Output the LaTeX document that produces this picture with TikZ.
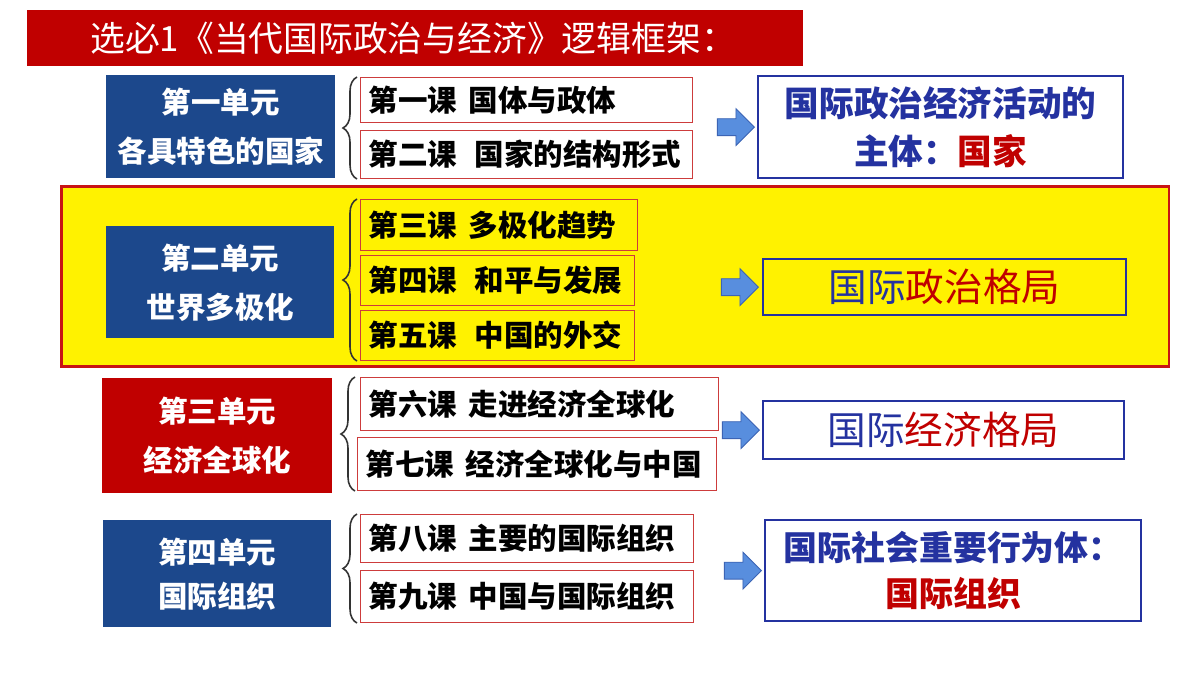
\documentclass[tikz,border=0pt]{standalone}
\usepackage{fontspec}
\setmainfont{Noto Sans CJK SC}
\usepackage{tikz}
\usetikzlibrary{decorations.pathreplacing,shapes.arrows}
\definecolor{unitblue}{RGB}{28,72,140}
\definecolor{unitred}{RGB}{192,0,0}
\definecolor{resblue}{RGB}{36,50,160}
\definecolor{resred}{RGB}{192,0,0}
\definecolor{arrfill}{RGB}{88,142,222}
\definecolor{arredge}{RGB}{60,100,180}
\definecolor{lessonline}{RGB}{205,60,60}
\definecolor{bandline}{RGB}{200,20,20}
\newcommand{\gap}{\hspace{0.4em}}
\newcommand{\widegap}{\hspace{0.6em}}
\newcommand{\unitfont}{\bfseries\fontsize{16.8}{28}\selectfont}
\newcommand{\lessonfont}{\bfseries\fontsize{16.8}{20}\selectfont}

\begin{document}
\begin{tikzpicture}[x=0.02cm, y=-0.02cm]
                %\draw[help lines] (0,0) grid[step=50] (1200,675);
                \tikzset{
                    unitbox/.style = {text = white, font = \unitfont, align = center, anchor = north west, inner sep = 0pt},
                    lessonbox/.style = {draw = lessonline, line width = 0.6pt, fill = white, anchor = north west,
                                        font = \lessonfont, align = left, inner xsep = 0.16cm, inner ysep = 0pt},
                    resbox/.style = {draw = resblue, line width = 1.3pt, fill = white, anchor = north west,
                                     align = center, text = resblue, inner sep = 0pt},
                    blockarrow/.style = {single arrow, draw = arredge, fill = arrfill, line width = 0.5pt, anchor = east,
                                         minimum height = 0.74cm, inner xsep = 0pt, inner ysep = 0.16cm,
                                         single arrow head extend = 0.2cm},
                    lessonbrace/.style = {decorate, decoration = {brace, amplitude = 0.28cm}, line width = 0.9pt, draw = black!80}
                }
                \useasboundingbox[fill = white] (0,0) rectangle (1200,675);
                % title bar
                \node[fill = unitred, anchor = north west, minimum width = 15.52cm, minimum height = 1.12cm, inner sep = 0pt] (titlebar) at (27,10) {};
                \node[anchor = west, text = white, font = \fontsize{19.8}{22}\selectfont, inner sep = 0pt] (titletxt) at (90,38) {选必1《当代国际政治与经济》逻辑框架：};
                % yellow band of the second unit
                \node[fill = yellow, draw = bandline, line width = 1.5pt, anchor = north west, minimum width = 22.16cm, minimum height = 3.6cm] (band) at (60,185) {};
                % first unit
                \node[unitbox, fill = unitblue, minimum width = 4.58cm, minimum height = 2.06cm] (unit1) at (106,75) {第一单元\\各具特色的国家};
                \node[lessonbox, minimum width = 6.64cm, text width = 6.32cm, minimum height = 0.9cm] (les1) at (360,77) {第一课\gap 国体与政体};
                \node[lessonbox, minimum width = 6.64cm, text width = 6.32cm, minimum height = 0.96cm] (les2) at (360,130) {第二课\widegap 国家的结构形式};
                \node[resbox, minimum width = 7.3cm, minimum height = 2.04cm, font = \bfseries\fontsize{19.7}{27}\selectfont] (res1) at (757,75) {国际政治经济活动的\\主体：{\color{resred}国家}};
                \node[blockarrow] (arr1) at ([xshift = -0.04cm]res1.west) {};
                \draw[lessonbrace] ([xshift = -0.06cm]les2.south west) -- ([xshift = -0.06cm]les1.north west);
                % second unit
                \node[unitbox, fill = unitblue, minimum width = 4.56cm, minimum height = 2.24cm] (unit2) at (106,226) {第二单元\\世界多极化};
                \node[lessonbox, fill = yellow, minimum width = 5.54cm, text width = 5.22cm, minimum height = 1.02cm] (les3) at (360,199) {第三课\gap 多极化趋势};
                \node[lessonbox, fill = yellow, minimum width = 5.48cm, text width = 5.16cm, minimum height = 1.0cm] (les4) at (360,255) {第四课\widegap 和平与发展};
                \node[lessonbox, fill = yellow, minimum width = 5.48cm, text width = 5.16cm, minimum height = 1.0cm] (les5) at (360,310) {第五课\widegap 中国的外交};
                \node[resbox, fill = yellow, minimum width = 7.26cm, minimum height = 1.12cm, font = \fontsize{22}{26}\selectfont] (res2) at (762,258) {国际{\color{resred}政治格局}};
                \node[blockarrow] (arr2) at ([xshift = -0.06cm]res2.west) {};
                \draw[lessonbrace] ([xshift = -0.06cm]les5.south west) -- ([xshift = -0.06cm]les3.north west);
                % third unit
                \node[unitbox, fill = unitred, minimum width = 4.6cm, minimum height = 2.3cm] (unit3) at (102,378) {第三单元\\经济全球化};
                \node[lessonbox, minimum width = 7.16cm, text width = 6.84cm, minimum height = 1.06cm] (les6) at (360,377) {第六课\gap 走进经济全球化};
                \node[lessonbox, minimum width = 7.18cm, text width = 6.86cm, minimum height = 1.06cm] (les7) at (357,437) {第七课\gap 经济全球化与中国};
                \node[resbox, minimum width = 7.22cm, minimum height = 1.16cm, font = \fontsize{22}{26}\selectfont] (res3) at (762,400) {国际{\color{resred}经济格局}};
                \node[blockarrow] (arr3) at ([xshift = -0.04cm]res3.west) {};
                \draw[lessonbrace] ([xshift = -0.04cm]les7.south west) -- ([xshift = -0.04cm]les7.south west |- les6.north);
                % fourth unit
                \node[unitbox, fill = unitblue, minimum width = 4.56cm, minimum height = 2.14cm, font = \bfseries\fontsize{16.8}{25}\selectfont] (unit4) at (103,520) {第四单元\\国际组织};
                \node[lessonbox, minimum width = 6.66cm, text width = 6.34cm, minimum height = 0.96cm] (les8) at (360,514) {第八课\gap 主要的国际组织};
                \node[lessonbox, minimum width = 6.66cm, text width = 6.34cm, minimum height = 1.04cm] (les9) at (360,570) {第九课\gap 中国与国际组织};
                \node[resbox, minimum width = 7.52cm, minimum height = 2.02cm, font = \bfseries\fontsize{19.3}{26}\selectfont] (res4) at (764,519) {国际社会重要行为体：\\{\color{resred}国际组织}};
                \node[blockarrow] (arr4) at ([xshift = -0.04cm]res4.west) {};
                \draw[lessonbrace] ([xshift = -0.06cm]les9.south west) -- ([xshift = -0.06cm]les8.north west);
\end{tikzpicture}
\end{document}
